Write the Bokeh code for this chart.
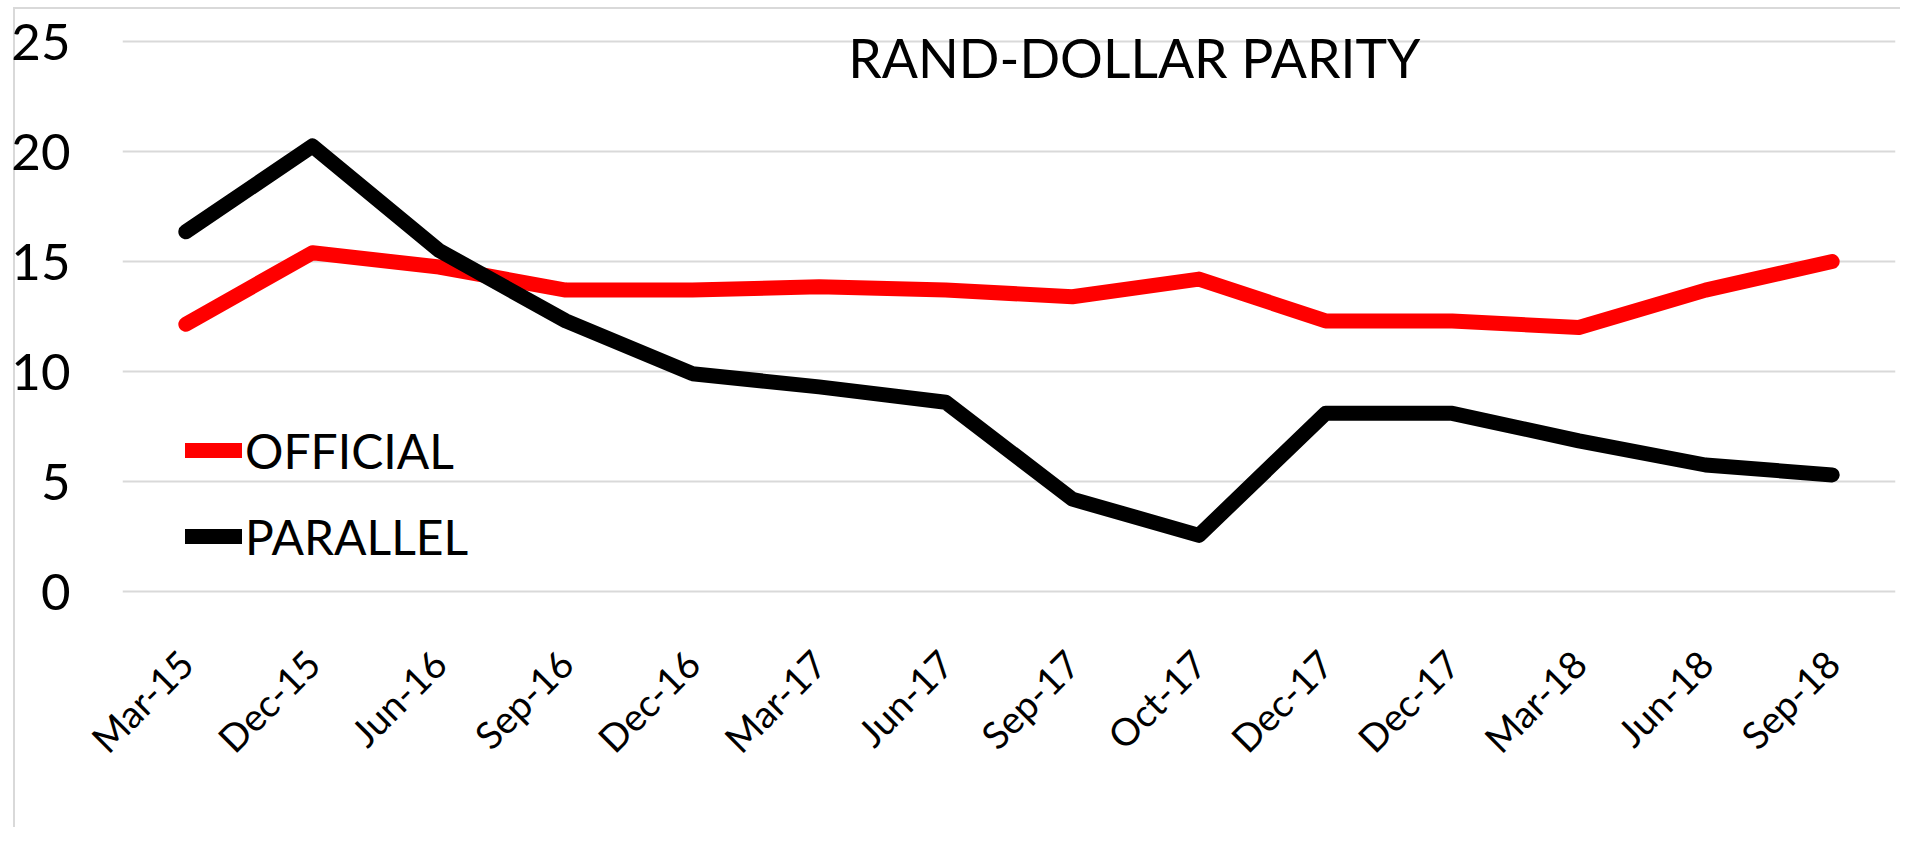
from math import pi
from bokeh.plotting import figure
from bokeh.models import (ColumnDataSource, Range1d, FixedTicker, Legend, LegendItem,
                          Label, LinearAxis)
from bokeh.embed import file_html
from bokeh.resources import INLINE

categories = ["Mar-15", "Dec-15", "Jun-16", "Sep-16", "Dec-16", "Mar-17", "Jun-17",
              "Sep-17", "Oct-17", "Dec-17", "Dec-17", "Mar-18", "Jun-18", "Sep-18"]
official = [12.15, 15.4, 14.75, 13.7, 13.7, 13.85, 13.7, 13.4, 14.2, 12.3, 12.3, 12.0, 13.7, 15.0]
parallel = [16.35, 20.25, 15.5, 12.3, 9.9, 9.3, 8.6, 4.2, 2.55, 8.1, 8.1, 6.85, 5.75, 5.3]
y_ticks = [0, 5, 10, 15, 20, 25]
title_text = "RAND-DOLLAR PARITY"

FONT = "Lato"

idx = list(range(len(categories)))
src = ColumnDataSource(dict(x=idx, official=official, parallel=parallel))

n = len(categories)
p = figure(width=1900, height=827, output_backend="svg", toolbar_location=None,
           x_range=Range1d(-0.5, n - 0.5), y_range=Range1d(-0.5, 26),
           x_axis_location=None,
           min_border_left=122, min_border_right=5, min_border_top=19, min_border_bottom=225)
# thin light-grey chart-area border on the left and top (drawn behind the transparent canvas border)
p.styles = {"box-shadow": "inset 13px 7px 0 0 #FFFFFF, inset 15px 9px 0 0 #D9D9D9"}
p.outline_line_color = None
p.background_fill_color = "white"
p.border_fill_alpha = 0

xaxis = LinearAxis(ticker=FixedTicker(ticks=idx))
xaxis.major_label_overrides = {i: c for i, c in enumerate(categories)}
p.add_layout(xaxis, "below")

p.xgrid.grid_line_color = None
p.ygrid.grid_line_color = "#D9D9D9"
p.ygrid.grid_line_width = 2
p.yaxis.ticker = FixedTicker(ticks=y_ticks)

for ax in (xaxis, p.yaxis[0]):
    ax.axis_line_color = None
    ax.major_tick_line_color = None
    ax.minor_tick_line_color = None
    ax.major_label_text_font = FONT
    ax.major_label_text_color = "black"

p.yaxis.major_tick_out = 0
p.yaxis.major_label_text_font_size = "51px"
p.yaxis.major_label_standoff = 52
xaxis.major_label_text_font_size = "38px"
xaxis.major_label_orientation = pi / 4
xaxis.major_label_standoff = 48

r1 = p.line("x", "official", source=src, line_color="#FF0000", line_width=15,
            line_cap="round", line_join="round")
r2 = p.line("x", "parallel", source=src, line_color="#000000", line_width=15,
            line_cap="round", line_join="round")

legend = Legend(items=[LegendItem(label="OFFICIAL", renderers=[r1]),
                       LegendItem(label="PARALLEL", renderers=[r2])],
                location=(63, 34), orientation="vertical",
                background_fill_alpha=0, border_line_color=None,
                label_text_font=FONT, label_text_font_size="48px", label_text_color="black",
                glyph_width=57, glyph_height=64, label_standoff=3, spacing=22,
                padding=0, margin=0)
p.add_layout(legend, "center")

title = Label(x=7.49, y=24.3, text=title_text, text_align="center",
              text_baseline="alphabetic", text_font=FONT, text_font_size="53.5px",
              text_color="black")
p.add_layout(title)

open("out.html", "w").write(file_html(p, INLINE))
